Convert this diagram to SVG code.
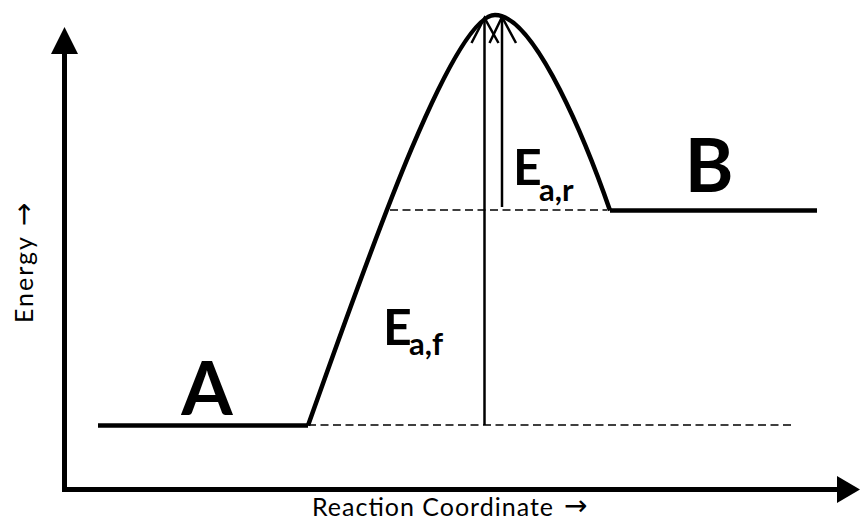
<svg xmlns="http://www.w3.org/2000/svg" width="861" height="522" viewBox="0 0 861 522">
<style>
.thick{stroke:#000;stroke-width:4.5;fill:none;stroke-linecap:butt}
.axis{stroke:#000;stroke-width:5;fill:none}
.dash{stroke:#000;stroke-width:1.5;fill:none;stroke-dasharray:8 4.5}
.arr{stroke:#000;stroke-width:2.5;fill:none}
.lbl{font-family:Lato,"Liberation Sans",sans-serif;fill:#000}
.big{font-weight:bold;font-size:74px}
.e{font-weight:bold;font-size:50px}
.sub{font-weight:bold;font-size:31px}
.ax{font-size:25px}
.arw{font-family:"DejaVu Sans",sans-serif;font-size:28px}
</style>
<rect width="861" height="522" fill="#fff"/>
<g id="axes">
  <line class="axis" x1="64.5" y1="492" x2="64.5" y2="50"/>
  <polygon points="64.5,27 51,54 78,54" fill="#000"/>
  <line class="axis" x1="62" y1="489.5" x2="840" y2="489.5"/>
  <polygon points="860,489.5 837,476 837,503" fill="#000"/>
  <text class="lbl ax" x="312" y="516"><tspan textLength="241">Reaction Coordinate</tspan><tspan class="arw" x="564" y="515">→</tspan></text>
  <text class="lbl ax" transform="translate(33,323) rotate(-90)" x="0" y="0"><tspan textLength="86">Energy</tspan><tspan class="arw" x="97">→</tspan></text>
</g>
<g id="guides">
  <line class="dash" x1="308" y1="425" x2="795" y2="425"/>
  <line class="dash" x1="390" y1="210" x2="607" y2="210"/>
</g>
<g id="A">
  <line class="thick" x1="98" y1="425.5" x2="308" y2="425.5"/>
  <text class="lbl big" x="207" y="415" text-anchor="middle">A</text>
</g>
<g id="TS">
  <path class="thick" d="M308,425.5 C360,280 451,15 495,15 C536,15 589,150 610,210.5"/>
</g>
<g id="B">
  <line class="thick" x1="610" y1="210.5" x2="817" y2="210.5"/>
  <text class="lbl big" x="709" y="192" text-anchor="middle">B</text>
</g>
<g id="connectors">
  <g id="Eaf">
    <line class="arr" x1="484.5" y1="425" x2="484.5" y2="18"/>
    <polyline class="arr" points="471.5,43 484.5,18 498.5,43"/>
  </g>
  <g id="Ear">
    <line class="arr" x1="502" y1="207" x2="502" y2="17"/>
    <polyline class="arr" points="489.5,43 502,17 516,43"/>
  </g>
</g>
<g id="labels">
  <text class="lbl e" x="383" y="345">E</text>
  <text class="lbl sub" x="409" y="355">a,f</text>
  <text class="lbl e" x="513" y="185">E</text>
  <text class="lbl sub" x="539" y="201">a,r</text>
</g>
</svg>
